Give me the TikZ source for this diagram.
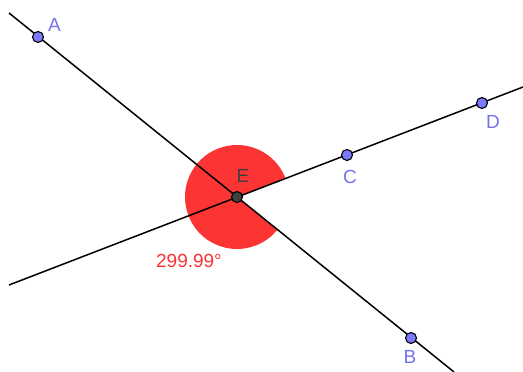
\documentclass[tikz,border=0pt]{standalone}
\usepackage{fontspec}
\setmainfont{Liberation Sans}
\definecolor{ptblue}{RGB}{122,122,255}
\definecolor{lblblue}{RGB}{115,115,235}
\definecolor{angred}{RGB}{252,52,52}
\definecolor{egray}{RGB}{64,64,64}
\begin{document}
\begin{tikzpicture}[x=1pt,y=1pt,
  ln/.style={line width=1.5pt,black},
  pt/.style={circle,draw=black,line width=1.1pt,fill=ptblue,inner sep=0pt,minimum size=11pt},
  ept/.style={circle,draw=black,line width=1.1pt,fill=egray,inner sep=0pt,minimum size=11pt},
  lbl/.style={text=lblblue,inner sep=0pt,font=\fontsize{19}{19}\selectfont},
]
\useasboundingbox[fill=white] (0,0) rectangle (523,372);
% points
\coordinate (A) at (38,335);
\coordinate (E) at (237,175);
\coordinate (B) at (411,34);
\coordinate (C) at (347,217);
\coordinate (D) at (482,269);
\coordinate (ab1) at (9,359);
\coordinate (ab2) at (454,0);
\coordinate (cd1) at (9,87);
\coordinate (cd2) at (523,285);
% angle sector
\fill[angred] (E) -- ++(20.9:52) arc[start angle=20.9, end angle=321.0, radius=52] -- cycle;
% lines
\draw[ln] (ab1) -- (ab2);
\draw[ln] (cd1) -- (cd2);
% point markers
\node[pt] (pA) at (A) {};
\node[pt] (pB) at (B) {};
\node[pt] (pC) at (C) {};
\node[pt] (pD) at (D) {};
\node[ept] (pE) at (E) {};
% labels
\node[lbl] (lA) at (54.5,347) {A};
\node[lbl] (lB) at (410,15) {B};
\node[lbl] (lC) at (350,195.5) {C};
\node[lbl] (lD) at (493,250) {D};
\node[lbl,text=egray] (lE) at (243,196) {E};
\node[lbl,text=angred] (lang) at (189,111) {299.99°};
\end{tikzpicture}
\end{document}
